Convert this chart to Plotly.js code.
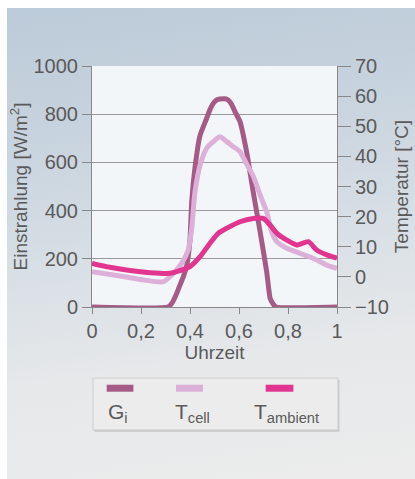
<!DOCTYPE html>
<html>
<head>
<meta charset="utf-8">
<script src="https://cdn.plot.ly/plotly-3.0.1.min.js"></script>
<style>
  html, body { margin:0; padding:0; background:#ffffff; }
  #bg { position:absolute; left:7px; top:8px; width:408px; height:471px;
        background: linear-gradient(172deg, #bccbd9 0%, #c7d3de 25%, #d8dfe5 50%, #e6e8ea 72%, #ececec 100%); }
  #chart { position:absolute; left:0; top:0; width:415px; height:479px; }
</style>
</head>
<body>
<div id="bg"></div>
<div id="chart"></div>
<script>
// ---- data ----
const gX = [0, 0.31, 0.327, 0.346, 0.359, 0.373, 0.387, 0.400, 0.407, 0.420, 0.441, 0.468, 0.482, 0.495, 0.510, 0.522, 0.540, 0.556, 0.570, 0.584, 0.604, 0.631, 0.658, 0.686, 0.713, 0.727, 0.740, 0.751, 1.0];
const gY = [0, 0, 17, 57, 91, 126, 174, 280, 436, 575, 712, 783, 820, 845, 860, 863, 864, 859, 840, 810, 769, 644, 478, 313, 146, 36, 11, 0, 0];

const cellX = [0, 0.128, 0.209, 0.291, 0.332, 0.366, 0.393, 0.407, 0.420, 0.441, 0.468, 0.495, 0.522, 0.550, 0.577, 0.604, 0.631, 0.658, 0.686, 0.713, 0.733, 0.754, 0.795, 0.849, 0.903, 0.958, 1.0];
const cellY = [1.7, 0.1, -1.0, -1.6, 1.2, 4.5, 9.0, 16, 28, 37, 42.7, 44.9, 46.5, 44.9, 43.2, 41.6, 37.5, 33.5, 27.2, 21.6, 15, 11.7, 9.5, 7.8, 6.2, 3.9, 2.8];

const ambX = [0, 0.073, 0.155, 0.237, 0.318, 0.359, 0.400, 0.441, 0.481, 0.516, 0.549, 0.604, 0.658, 0.699, 0.727, 0.754, 0.795, 0.836, 0.883, 0.917, 0.958, 1.0];
const ambY = [4.5, 3.2, 2.1, 1.4, 1.2, 2.1, 3.4, 6.7, 11.1, 14.5, 16.1, 18.3, 19.4, 19.4, 17.2, 14.5, 12.2, 10.6, 11.7, 8.9, 7.3, 6.2];

const seriesNames = ['G<sub>i</sub>', 'T<sub>cell</sub>', 'T<sub>ambient</sub>'];
const seriesColors = ['#a65a86', '#dcb0d8', '#e2358f'];

const xTicks = [0, 0.2, 0.4, 0.6, 0.8, 1];
const yTicks = [0, 200, 400, 600, 800, 1000];
const y2Ticks = [-10, 0, 10, 20, 30, 40, 50, 60, 70];

const fontFam = 'Liberation Sans, Arial, sans-serif';
const txt = '#5a5a5a';

const traces = [
  {x: cellX, y: cellY, yaxis: 'y2', mode: 'lines', name: seriesNames[1],
   line: {color: seriesColors[1], width: 5, shape: 'spline', smoothing: 0.6}},
  {x: gX, y: gY, yaxis: 'y', mode: 'lines', name: seriesNames[0],
   line: {color: seriesColors[0], width: 5, shape: 'spline', smoothing: 0.5}},
  {x: ambX, y: ambY, yaxis: 'y2', mode: 'lines', name: seriesNames[2],
   line: {color: seriesColors[2], width: 5, shape: 'spline', smoothing: 0.6}}
];

// legend box (drawn below the plot)
const swX = [[0.06, 0.169], [0.343, 0.453], [0.709, 0.822]];
const lblX = [0.057, 0.33, 0.655];
const shapes = [
  {type:'rect', xref:'paper', yref:'paper', x0:0.01, x1:1.01, y0:-0.518, y1:-0.303,
   fillcolor:'#c9c9c9', line:{width:0}},
  {type:'rect', xref:'paper', yref:'paper', x0:0.004, x1:1.004, y0:-0.51, y1:-0.295,
   fillcolor:'#ececec', line:{color:'#cfcfcf', width:1}}
];
const annotations = [];
for (let i = 0; i < 3; i++) {
  shapes.push({type:'line', xref:'paper', yref:'paper', x0:swX[i][0], x1:swX[i][1], y0:-0.337, y1:-0.337,
    line:{color: seriesColors[i], width: 7}});
  annotations.push({xref:'paper', yref:'paper', x:lblX[i], y:-0.44, xanchor:'left', yanchor:'middle',
    text: seriesNames[i], showarrow:false, font:{family:fontFam, size:21, color:txt}});
}

const layout = {
  width: 415, height: 479,
  margin: {l: 92, r: 78, t: 66, b: 172},
  paper_bgcolor: 'rgba(0,0,0,0)',
  plot_bgcolor: '#f3f6f8',
  separators: ',.',
  showlegend: false,
  font: {family: fontFam, color: txt},
  xaxis: {
    range: [0, 1], tickvals: xTicks, ticks: 'outside', ticklen: 6, tickcolor: '#888',
    showline: true, linecolor: '#888', linewidth: 1, showgrid: false, zeroline: false,
    tickfont: {size: 20, color: txt},
    title: {text: 'Uhrzeit', font: {size: 19, color: txt}, standoff: 4}
  },
  yaxis: {
    range: [0, 1000], tickvals: yTicks, ticks: 'outside', ticklen: 9, tickcolor: '#888',
    showline: true, linecolor: '#888', linewidth: 1, showgrid: true, gridcolor: '#9a9a9a', gridwidth: 1,
    zeroline: false, tickfont: {size: 20, color: txt},
    title: {text: 'Einstrahlung [W/m<sup>2</sup>]', font: {size: 19, color: txt}, standoff: 0}
  },
  yaxis2: {
    overlaying: 'y', side: 'right', range: [-10, 70], tickvals: y2Ticks,
    ticks: 'outside', ticklen: 13, tickcolor: '#888',
    showline: true, linecolor: '#888', linewidth: 1, showgrid: false, zeroline: false,
    tickfont: {size: 20, color: txt},
    title: {text: 'Temperatur [°C]', font: {size: 19, color: txt}, standoff: 6}
  },
  shapes: shapes,
  annotations: annotations
};

Plotly.newPlot('chart', traces, layout, {displayModeBar: false, staticPlot: true});
</script>
</body>
</html>
